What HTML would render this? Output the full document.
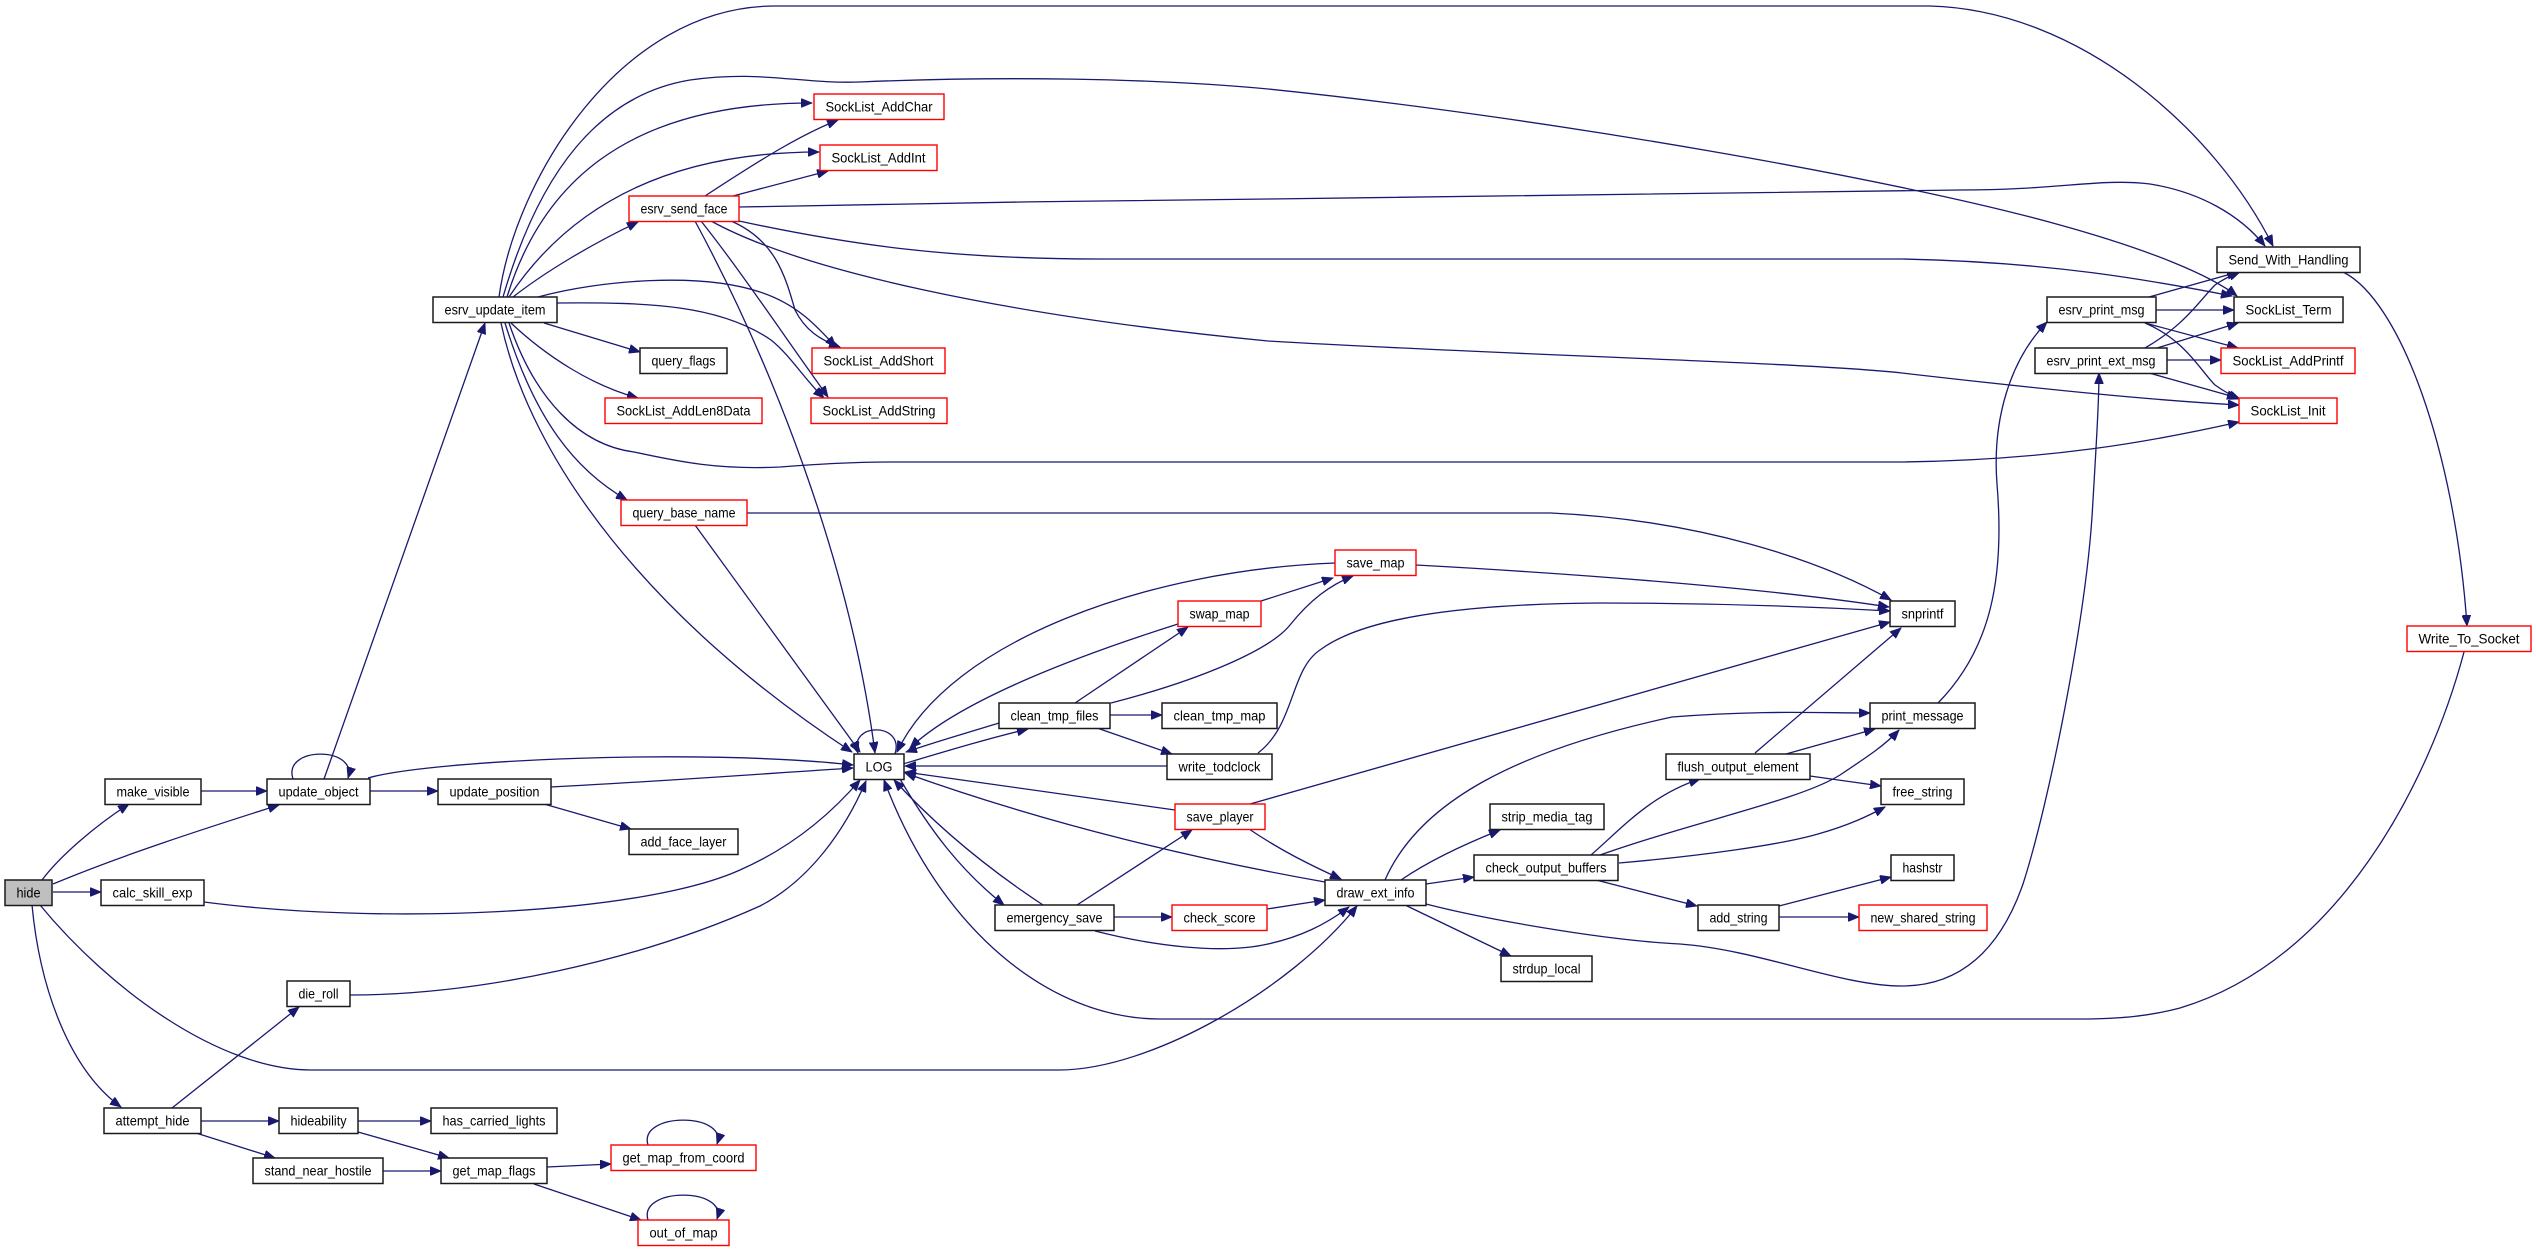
<!DOCTYPE html>
<html>
<head>
<meta charset="utf-8">
<style>
html,body{margin:0;padding:0;background:#fff;}
svg{display:block;}
.e{fill:none;stroke:#191970;stroke-width:1.3;}
.n{fill:#fff;stroke:#1a1a1a;stroke-width:1.5;}
.r{fill:#fff;stroke:#ff0000;stroke-width:1.4;}
.g{fill:#bfbfbf;stroke:#1a1a1a;stroke-width:1.5;}
text{font-family:"Liberation Sans",Arial,sans-serif;font-size:14px;fill:#000;text-anchor:middle;}
</style>
</head>
<body>
<svg width="2536" height="1251" viewBox="0 0 2536 1251" xmlns="http://www.w3.org/2000/svg">
<defs>
<marker id="a" markerWidth="12" markerHeight="9" refX="11" refY="4.5" orient="auto" markerUnits="userSpaceOnUse">
<path d="M0,0 L11,4.5 L0,9 z" fill="#191970" stroke="#191970" stroke-width="0.8"/>
</marker>
</defs>
<rect width="2536" height="1251" fill="#fff"/>
<g class="e" marker-end="url(#a)">
<path d="M42,880 C60,856 95,826 129,804"/>
<path d="M53,884 C120,856 200,830 279,805"/>
<path d="M53,892 L101,892"/>
<path d="M32,905 C40,990 70,1070 121,1107"/>
<path d="M40,905 C110,990 220,1070 311,1070 L1059,1070 C1150,1070 1290,990 1357,906"/>
<path d="M201,791 L267,791"/>
<path d="M293,779 C282,746 358,746 348,778"/>
<path d="M324,779 L485,323"/>
<path d="M370,791 L438,791"/>
<path d="M368,778 C430,760 700,748 853,765"/>
<path d="M551,787 C650,782 760,774 853,768"/>
<path d="M544,804 L631,829"/>
<path d="M204,902 C380,925 640,915 740,870 C790,848 830,815 860,780"/>
<path d="M350,995 C480,995 640,960 760,906 C810,880 845,830 866,781"/>
<path d="M172,1108 L299,1007"/>
<path d="M201,1121 L279,1121"/>
<path d="M196,1133 L275,1158"/>
<path d="M358,1121 L431,1121"/>
<path d="M358,1132 L449,1158"/>
<path d="M383,1171 L441,1171"/>
<path d="M547,1167 L611,1164"/>
<path d="M534,1184 L641,1220"/>
<path d="M648,1145 C638,1112 728,1112 717,1144"/>
<path d="M648,1220 C638,1187 728,1187 717,1219"/>
<path d="M499,297 C515,180 620,6 775,6 L1930,6 C2080,10 2215,130 2273,246"/>
<path d="M503,297 C540,170 600,95 690,80 C760,70 800,84 860,82 C1000,76 1150,78 1268,89 C1550,118 1900,180 2060,225 C2150,250 2210,275 2237,296"/>
<path d="M507,297 C540,190 620,103 812,103"/>
<path d="M509,297 C560,220 650,152 819,152"/>
<path d="M513,297 C545,272 590,245 638,222"/>
<path d="M538,297 C600,280 700,272 760,292 C800,305 820,330 836,347"/>
<path d="M556,303 C650,302 720,305 771,340 C790,355 805,380 824,398"/>
<path d="M544,323 L640,352"/>
<path d="M511,323 C545,355 590,385 638,398"/>
<path d="M501,323 C530,460 650,620 852,752"/>
<path d="M505,323 C535,420 575,470 627,500"/>
<path d="M509,323 C535,400 580,445 634,452 C680,462 720,470 780,467 C820,464 850,462 900,462 L1902,462 C2050,460 2150,442 2239,422"/>
<path d="M705,196 C760,160 800,135 838,120"/>
<path d="M733,196 L828,171"/>
<path d="M739,207 C900,203 1100,201 1268,199 L1960,190 C2060,190 2100,178 2150,184 C2200,192 2240,215 2265,246"/>
<path d="M739,221 C850,245 950,259 1100,259 L1902,259 C2050,262 2150,280 2232,296"/>
<path d="M711,221 C800,270 1000,315 1268,341 C1500,355 1800,362 1902,373 C2050,390 2150,400 2239,405"/>
<path d="M731,221 C775,240 785,275 795,310 C805,330 820,340 840,347"/>
<path d="M701,221 C740,270 780,330 828,397"/>
<path d="M695,221 C770,360 850,560 875,753"/>
<path d="M695,525 L860,752"/>
<path d="M747,513 L1551,513 C1700,520 1820,560 1891,600"/>
<path d="M895,754 C905,722 848,722 858,753"/>
<path d="M903,764 C950,750 990,738 1028,729"/>
<path d="M999,723 C960,735 935,742 906,752"/>
<path d="M900,779 C930,830 960,870 1004,905"/>
<path d="M1043,905 C990,870 940,830 894,780"/>
<path d="M1075,703 L1188,627"/>
<path d="M1111,703 C1200,680 1270,650 1290,625 C1310,600 1330,585 1353,576"/>
<path d="M1110,715 L1162,715"/>
<path d="M1097,728 L1172,754"/>
<path d="M1261,601 L1333,578"/>
<path d="M1178,624 C1080,655 960,700 910,748"/>
<path d="M1335,563 C1150,570 950,640 897,752"/>
<path d="M1416,565 C1600,575 1780,590 1889,607"/>
<path d="M1167,766 L905,766"/>
<path d="M1258,753 C1295,725 1290,670 1320,650 C1360,620 1450,604 1600,603 C1700,603 1800,606 1890,611"/>
<path d="M1175,810 L905,772"/>
<path d="M1250,804 L1890,622"/>
<path d="M1249,829 C1280,850 1310,865 1341,879"/>
<path d="M1077,905 L1192,830"/>
<path d="M1114,917 L1172,917"/>
<path d="M1095,931 C1150,945 1220,955 1268,944 C1300,937 1325,925 1349,907"/>
<path d="M1267,909 L1325,900"/>
<path d="M1325,882 C1200,860 1050,825 905,773"/>
<path d="M1385,880 C1420,800 1520,750 1672,717 C1760,710 1820,713 1870,713"/>
<path d="M1401,880 C1430,860 1470,842 1500,830"/>
<path d="M1426,884 L1474,877"/>
<path d="M1405,905 L1511,956"/>
<path d="M1426,904 C1480,918 1600,940 1680,944 C1760,950 1840,986 1902,986 C1960,986 2000,950 2023,884 C2050,800 2085,620 2092,517 C2096,450 2099,400 2099,373"/>
<path d="M1591,855 C1620,830 1650,795 1700,779"/>
<path d="M1600,855 C1700,820 1800,800 1840,775 C1870,755 1885,745 1899,730"/>
<path d="M1619,863 C1700,856 1780,845 1818,834 C1850,825 1870,815 1885,807"/>
<path d="M1596,880 L1697,906"/>
<path d="M1755,753 L1901,628"/>
<path d="M1786,754 L1875,729"/>
<path d="M1810,776 L1881,786"/>
<path d="M1779,906 L1891,877"/>
<path d="M1779,917 L1859,917"/>
<path d="M1938,703 C1990,650 2005,580 1997,484 C1992,420 2010,360 2047,322"/>
<path d="M2149,297 L2238,272"/>
<path d="M2156,310 L2234,310"/>
<path d="M2145,323 L2238,348"/>
<path d="M2145,323 C2185,340 2200,370 2215,385 C2225,392 2232,396 2240,399"/>
<path d="M2145,348 C2185,325 2200,300 2215,285 C2225,278 2232,275 2240,272"/>
<path d="M2157,348 L2238,323"/>
<path d="M2167,360 L2221,360"/>
<path d="M2149,373 L2238,398"/>
<path d="M2343,272 C2400,300 2455,450 2467,626"/>
<path d="M2464,652 C2430,780 2340,960 2180,1008 C2150,1016 2120,1019 2080,1019 L1160,1019 C1050,1019 940,930 884,780"/>
</g>
<g>
<rect class="g" x="5" y="880" width="47" height="25.5"/><text x="28.5" y="897.5" textLength="24" lengthAdjust="spacingAndGlyphs">hide</text>
<rect class="n" x="105" y="779" width="96" height="25.5"/><text x="153" y="796.5" textLength="73" lengthAdjust="spacingAndGlyphs">make_visible</text>
<rect class="n" x="101" y="880" width="103" height="25.5"/><text x="152.5" y="897.5" textLength="80" lengthAdjust="spacingAndGlyphs">calc_skill_exp</text>
<rect class="n" x="104" y="1108" width="97" height="25.5"/><text x="152.5" y="1125.5" textLength="74" lengthAdjust="spacingAndGlyphs">attempt_hide</text>
<rect class="n" x="267" y="779" width="103" height="25.5"/><text x="318.5" y="796.5" textLength="80" lengthAdjust="spacingAndGlyphs">update_object</text>
<rect class="n" x="287" y="981" width="63" height="25.5"/><text x="318.5" y="998.5" textLength="40" lengthAdjust="spacingAndGlyphs">die_roll</text>
<rect class="n" x="279" y="1108" width="79" height="25.5"/><text x="318.5" y="1125.5" textLength="56" lengthAdjust="spacingAndGlyphs">hideability</text>
<rect class="n" x="253" y="1158" width="130" height="25.5"/><text x="318" y="1175.5" textLength="107" lengthAdjust="spacingAndGlyphs">stand_near_hostile</text>
<rect class="n" x="433" y="297" width="124" height="25.5"/><text x="495" y="314.5" textLength="101" lengthAdjust="spacingAndGlyphs">esrv_update_item</text>
<rect class="n" x="438" y="779" width="113" height="25.5"/><text x="494.5" y="796.5" textLength="90" lengthAdjust="spacingAndGlyphs">update_position</text>
<rect class="n" x="431" y="1108" width="126" height="25.5"/><text x="494" y="1125.5" textLength="103" lengthAdjust="spacingAndGlyphs">has_carried_lights</text>
<rect class="n" x="441" y="1158" width="106" height="25.5"/><text x="494" y="1175.5" textLength="83" lengthAdjust="spacingAndGlyphs">get_map_flags</text>
<rect class="r" x="629" y="196" width="110" height="25.5"/><text x="684" y="213.5" textLength="87" lengthAdjust="spacingAndGlyphs">esrv_send_face</text>
<rect class="n" x="640" y="348" width="87" height="25.5"/><text x="683.5" y="365.5" textLength="64" lengthAdjust="spacingAndGlyphs">query_flags</text>
<rect class="r" x="605" y="398" width="157" height="25.5"/><text x="683.5" y="415.5" textLength="134" lengthAdjust="spacingAndGlyphs">SockList_AddLen8Data</text>
<rect class="r" x="621" y="500" width="126" height="25.5"/><text x="684" y="517.5" textLength="103" lengthAdjust="spacingAndGlyphs">query_base_name</text>
<rect class="n" x="629" y="829" width="109" height="25.5"/><text x="683.5" y="846.5" textLength="86" lengthAdjust="spacingAndGlyphs">add_face_layer</text>
<rect class="r" x="611" y="1145" width="145" height="25.5"/><text x="683.5" y="1162.5" textLength="122" lengthAdjust="spacingAndGlyphs">get_map_from_coord</text>
<rect class="r" x="638" y="1220" width="91" height="25.5"/><text x="683.5" y="1237.5" textLength="68" lengthAdjust="spacingAndGlyphs">out_of_map</text>
<rect class="r" x="814" y="94" width="130" height="25.5"/><text x="879" y="111.5" textLength="107" lengthAdjust="spacingAndGlyphs">SockList_AddChar</text>
<rect class="r" x="820" y="145" width="117" height="25.5"/><text x="878.5" y="162.5" textLength="94" lengthAdjust="spacingAndGlyphs">SockList_AddInt</text>
<rect class="r" x="812" y="348" width="133" height="25.5"/><text x="878.5" y="365.5" textLength="110" lengthAdjust="spacingAndGlyphs">SockList_AddShort</text>
<rect class="r" x="811" y="398" width="136" height="25.5"/><text x="879" y="415.5" textLength="113" lengthAdjust="spacingAndGlyphs">SockList_AddString</text>
<rect class="n" x="854" y="754" width="50" height="25.5"/><text x="879" y="771.5" textLength="27" lengthAdjust="spacingAndGlyphs">LOG</text>
<rect class="n" x="999" y="703" width="111" height="25.5"/><text x="1054.5" y="720.5" textLength="88" lengthAdjust="spacingAndGlyphs">clean_tmp_files</text>
<rect class="n" x="995" y="905" width="119" height="25.5"/><text x="1054.5" y="922.5" textLength="96" lengthAdjust="spacingAndGlyphs">emergency_save</text>
<rect class="r" x="1178" y="601" width="83" height="25.5"/><text x="1219.5" y="618.5" textLength="60" lengthAdjust="spacingAndGlyphs">swap_map</text>
<rect class="n" x="1162" y="703" width="115" height="25.5"/><text x="1219.5" y="720.5" textLength="92" lengthAdjust="spacingAndGlyphs">clean_tmp_map</text>
<rect class="n" x="1167" y="754" width="105" height="25.5"/><text x="1219.5" y="771.5" textLength="82" lengthAdjust="spacingAndGlyphs">write_todclock</text>
<rect class="r" x="1175" y="804" width="90" height="25.5"/><text x="1220" y="821.5" textLength="67" lengthAdjust="spacingAndGlyphs">save_player</text>
<rect class="r" x="1172" y="905" width="95" height="25.5"/><text x="1219.5" y="922.5" textLength="72" lengthAdjust="spacingAndGlyphs">check_score</text>
<rect class="n" x="1325" y="880" width="101" height="25.5"/><text x="1375.5" y="897.5" textLength="78" lengthAdjust="spacingAndGlyphs">draw_ext_info</text>
<rect class="r" x="1335" y="550" width="81" height="25.5"/><text x="1375.5" y="567.5" textLength="58" lengthAdjust="spacingAndGlyphs">save_map</text>
<rect class="n" x="1490" y="804" width="114" height="25.5"/><text x="1547" y="821.5" textLength="91" lengthAdjust="spacingAndGlyphs">strip_media_tag</text>
<rect class="n" x="1474" y="855" width="144" height="25.5"/><text x="1546" y="872.5" textLength="121" lengthAdjust="spacingAndGlyphs">check_output_buffers</text>
<rect class="n" x="1501" y="956" width="91" height="25.5"/><text x="1546.5" y="973.5" textLength="68" lengthAdjust="spacingAndGlyphs">strdup_local</text>
<rect class="n" x="1666" y="754" width="144" height="25.5"/><text x="1738" y="771.5" textLength="121" lengthAdjust="spacingAndGlyphs">flush_output_element</text>
<rect class="n" x="1698" y="905" width="81" height="25.5"/><text x="1738.5" y="922.5" textLength="58" lengthAdjust="spacingAndGlyphs">add_string</text>
<rect class="n" x="1890" y="601" width="65" height="25.5"/><text x="1922.5" y="618.5" textLength="42" lengthAdjust="spacingAndGlyphs">snprintf</text>
<rect class="n" x="1870" y="703" width="105" height="25.5"/><text x="1922.5" y="720.5" textLength="82" lengthAdjust="spacingAndGlyphs">print_message</text>
<rect class="n" x="1881" y="779" width="83" height="25.5"/><text x="1922.5" y="796.5" textLength="60" lengthAdjust="spacingAndGlyphs">free_string</text>
<rect class="n" x="1891" y="855" width="63" height="25.5"/><text x="1922.5" y="872.5" textLength="40" lengthAdjust="spacingAndGlyphs">hashstr</text>
<rect class="r" x="1859" y="905" width="128" height="25.5"/><text x="1923" y="922.5" textLength="105" lengthAdjust="spacingAndGlyphs">new_shared_string</text>
<rect class="n" x="2047" y="297" width="109" height="25.5"/><text x="2101.5" y="314.5" textLength="86" lengthAdjust="spacingAndGlyphs">esrv_print_msg</text>
<rect class="n" x="2035" y="348" width="132" height="25.5"/><text x="2101" y="365.5" textLength="109" lengthAdjust="spacingAndGlyphs">esrv_print_ext_msg</text>
<rect class="n" x="2217" y="247" width="143" height="25.5"/><text x="2288.5" y="264.5" textLength="120" lengthAdjust="spacingAndGlyphs">Send_With_Handling</text>
<rect class="n" x="2234" y="297" width="109" height="25.5"/><text x="2288.5" y="314.5" textLength="86" lengthAdjust="spacingAndGlyphs">SockList_Term</text>
<rect class="r" x="2221" y="348" width="134" height="25.5"/><text x="2288" y="365.5" textLength="111" lengthAdjust="spacingAndGlyphs">SockList_AddPrintf</text>
<rect class="r" x="2239" y="398" width="98" height="25.5"/><text x="2288" y="415.5" textLength="75" lengthAdjust="spacingAndGlyphs">SockList_Init</text>
<rect class="r" x="2407" y="626" width="124" height="25.5"/><text x="2469" y="643.5" textLength="101" lengthAdjust="spacingAndGlyphs">Write_To_Socket</text>
</g>
</svg>
</body>
</html>
